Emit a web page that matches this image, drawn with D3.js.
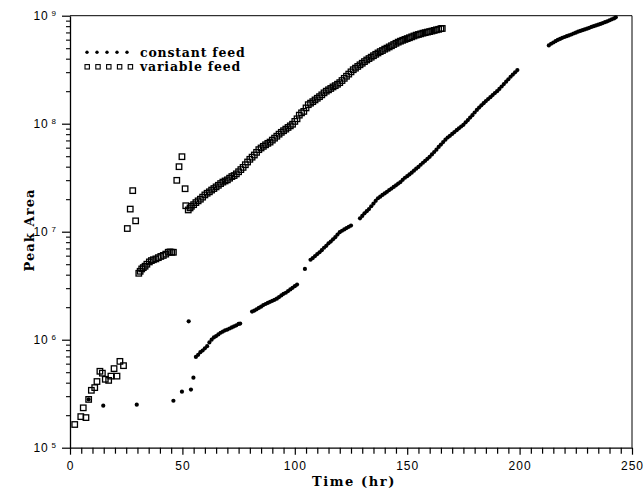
<!DOCTYPE html>
<html>
<head>
<meta charset="utf-8">
<script src="https://cdn.jsdelivr.net/npm/d3@7"></script>
<style>
  html, body { margin: 0; padding: 0; background: #fff; }
  svg { display: block; }
</style>
</head>
<body>
<script>
// Peak area of the product over time for the two feeding strategies.
// Each entry is [time (hr), peak area].

const xTicksMajor = [0, 50, 100, 150, 200, 250];
const yDecades = [1e5, 1e6, 1e7, 1e8, 1e9];

const constantFeed = [
  [8.3, 2.8e5], [14.8, 2.45e5], [29.7, 2.5e5], [46.0, 2.72e5], [49.8, 3.3e5],
  [52.8, 1.48e6], [53.8, 3.45e5], [54.9, 4.45e5],
  [56, 6.92e5], [57, 7.24e5], [58, 7.67e5], [59, 7.94e5], [60, 8.32e5], [61, 8.71e5],
  [62, 9.44e5], [63, 1.0e6], [64, 1.05e6], [65, 1.08e6], [66, 1.12e6], [67, 1.16e6],
  [68, 1.19e6], [69, 1.22e6], [70, 1.24e6], [71, 1.27e6], [72, 1.30e6], [73, 1.33e6],
  [74, 1.36e6], [75, 1.40e6], [75.7, 1.41e6],
  [81, 1.82e6], [82, 1.86e6], [83, 1.91e6], [84, 1.97e6], [85, 2.02e6], [86, 2.09e6],
  [87, 2.14e6], [88, 2.19e6], [89, 2.24e6], [90, 2.29e6], [91, 2.34e6], [92, 2.40e6],
  [93, 2.48e6], [94, 2.57e6], [95, 2.66e6], [96, 2.72e6], [97, 2.82e6], [98, 2.92e6],
  [99, 3.02e6], [100, 3.13e6], [101, 3.24e6],
  [104.5, 4.52e6],
  [107, 5.5e6], [108, 5.7e6], [109, 5.95e6], [110, 6.2e6], [111, 6.45e6], [112, 6.75e6],
  [113, 7.1e6], [114, 7.4e6], [115, 7.8e6], [116, 8.1e6], [117, 8.5e6], [118, 8.9e6],
  [119, 9.4e6], [120, 9.9e6], [121, 1.02e7], [122, 1.05e7], [123, 1.08e7], [124, 1.11e7],
  [125, 1.14e7],
  [129, 1.33e7], [130, 1.40e7], [131, 1.48e7], [132, 1.55e7], [133, 1.62e7], [134, 1.72e7],
  [135, 1.82e7], [136, 1.93e7], [137, 2.04e7], [138, 2.11e7], [139, 2.19e7], [140, 2.26e7],
  [141, 2.34e7], [142, 2.43e7], [143, 2.51e7], [144, 2.60e7], [145, 2.69e7], [146, 2.79e7],
  [147, 2.88e7], [148, 3.02e7], [149, 3.16e7], [150, 3.27e7], [151, 3.39e7], [152, 3.52e7],
  [153, 3.67e7], [154, 3.83e7], [155, 3.98e7], [156, 4.17e7], [157, 4.35e7], [158, 4.53e7],
  [159, 4.73e7], [160, 4.94e7], [161, 5.19e7], [162, 5.47e7], [163, 5.75e7], [164, 6.1e7],
  [165, 6.41e7], [166, 6.76e7], [167, 7.11e7], [168, 7.45e7], [169, 7.73e7], [170, 8.04e7],
  [171, 8.36e7], [172, 8.71e7], [173, 9.06e7], [174, 9.42e7], [175, 9.77e7], [176, 1.03e8],
  [177, 1.08e8], [178, 1.14e8], [179, 1.20e8], [180, 1.27e8], [181, 1.34e8], [182, 1.41e8],
  [183, 1.48e8], [184, 1.55e8], [185, 1.62e8], [186, 1.69e8], [187, 1.76e8], [188, 1.84e8],
  [189, 1.92e8], [190, 2.0e8], [191, 2.10e8], [192, 2.21e8], [193, 2.33e8], [194, 2.45e8],
  [195, 2.58e8], [196, 2.72e8], [197, 2.85e8], [198, 2.99e8], [199, 3.14e8],
  [213, 5.31e8], [214, 5.50e8], [215, 5.65e8], [216, 5.81e8], [217, 5.96e8], [218, 6.10e8],
  [219, 6.24e8], [220, 6.35e8], [221, 6.46e8], [222, 6.58e8], [223, 6.70e8], [224, 6.84e8],
  [225, 6.97e8], [226, 7.11e8], [227, 7.23e8], [228, 7.35e8], [229, 7.46e8], [230, 7.59e8],
  [231, 7.73e8], [232, 7.87e8], [233, 8.0e8], [234, 8.13e8], [235, 8.26e8], [236, 8.39e8],
  [237, 8.55e8], [238, 8.71e8], [239, 8.87e8], [240, 9.06e8], [241, 9.25e8], [242, 9.44e8],
  [242.8, 9.66e8]
];

const variableFeed = [
  [2.1, 1.64e5], [4.8, 1.94e5], [5.9, 2.34e5], [7.1, 1.9e5], [8.3, 2.8e5], [9.5, 3.4e5],
  [11.0, 3.6e5], [12.0, 4.1e5], [13.3, 5.1e5], [14.4, 4.9e5], [15.7, 4.3e5], [17.2, 4.2e5],
  [18.2, 4.6e5], [19.6, 5.4e5], [20.9, 4.6e5], [22.2, 6.3e5], [23.8, 5.75e5],
  [25.5, 1.07e7], [26.8, 1.62e7], [27.9, 2.4e7], [29.2, 1.26e7],
  [30.6, 4.12e6], [31.2, 4.3e6], [31.9, 4.52e6], [32.6, 4.65e6], [33.4, 4.79e6], [34.2, 5.0e6],
  [35.3, 5.25e6], [36.2, 5.4e6], [37.1, 5.5e6], [38.2, 5.6e6], [39.3, 5.75e6], [40.4, 5.9e6],
  [41.5, 6.03e6], [42.6, 6.2e6], [43.7, 6.45e6], [44.5, 6.5e6], [45.3, 6.45e6], [46.0, 6.45e6],
  [47.5, 2.99e7], [48.5, 4.0e7], [49.8, 4.95e7], [51.2, 2.5e7], [51.5, 1.74e7],
  [52.6, 1.59e7], [53.4, 1.66e7], [54, 1.72e7], [55, 1.78e7], [56, 1.86e7], [57, 1.93e7],
  [58, 2.0e7], [59, 2.09e7], [60, 2.19e7], [61, 2.27e7], [62, 2.34e7], [63, 2.43e7],
  [64, 2.51e7], [65, 2.6e7], [66, 2.69e7], [67, 2.79e7], [68, 2.88e7], [69, 2.95e7],
  [70, 3.02e7], [71, 3.13e7], [72, 3.24e7], [73, 3.31e7], [74, 3.43e7], [75, 3.59e7],
  [76, 3.76e7], [77, 3.94e7], [78, 4.17e7], [79, 4.42e7], [80, 4.68e7], [81, 4.9e7],
  [82, 5.13e7], [83, 5.43e7], [84, 5.75e7], [85, 5.96e7], [86, 6.17e7], [87, 6.38e7],
  [88, 6.58e7], [89, 6.76e7], [90, 7.05e7], [91, 7.35e7], [92, 7.66e7], [93, 8.0e7],
  [94, 8.32e7], [95, 8.61e7], [96, 8.91e7], [97, 9.23e7], [98, 9.55e7], [99, 9.89e7],
  [100, 1.05e8], [101, 1.11e8], [102, 1.2e8], [103, 1.26e8], [104, 1.3e8], [105, 1.4e8],
  [106, 1.5e8], [107, 1.55e8], [108, 1.6e8], [109, 1.66e8], [110, 1.72e8], [111, 1.78e8],
  [112, 1.85e8], [113, 1.93e8], [114, 2.0e8], [115, 2.06e8], [116, 2.12e8], [117, 2.19e8],
  [118, 2.25e8], [119, 2.32e8], [120, 2.4e8], [121, 2.51e8], [122, 2.63e8], [123, 2.75e8],
  [124, 2.88e8], [125, 3.02e8], [126, 3.16e8], [127, 3.27e8], [128, 3.39e8], [129, 3.51e8],
  [130, 3.63e8], [131, 3.76e8], [132, 3.89e8], [133, 4.01e8], [134, 4.13e8], [135, 4.26e8],
  [136, 4.39e8], [137, 4.52e8], [138, 4.65e8], [139, 4.76e8], [140, 4.9e8], [141, 5.01e8],
  [142, 5.14e8], [143, 5.27e8], [144, 5.41e8], [145, 5.55e8], [146, 5.69e8], [147, 5.81e8],
  [148, 5.92e8], [149, 6.03e8], [150, 6.14e8], [151, 6.25e8], [152, 6.37e8], [153, 6.49e8],
  [154, 6.61e8], [155, 6.7e8], [156, 6.79e8], [157, 6.89e8], [158, 6.97e8], [159, 7.05e8],
  [160, 7.13e8], [161, 7.21e8], [162, 7.31e8], [163, 7.4e8], [164, 7.48e8], [165, 7.59e8],
  [165.6, 7.62e8]
];

const legendItems = ["constant feed", "variable feed"];

const W = 644, H = 489;
const svg = d3.select("body").append("svg").attr("width", W).attr("height", H);

const x = d3.scaleLinear().domain([0, 250]).range([70, 632]);
const y = d3.scaleLog().domain([1e5, 1e9]).range([447.7, 15.7]);

const tickFont = "'Liberation Sans', Arial, sans-serif";
const titleFont = "'DejaVu Serif', serif";

// frame: top and right edges
svg.append("path")
  .attr("d", `M${x(0)},${y(1e9)}H${x(250)}V${y(1e5)}`)
  .attr("fill", "none").attr("stroke", "#000").attr("stroke-width", 1);

// x axis: minor ticks every 5 hr, labelled ticks every 50 hr
const xMinor = d3.range(0, 251, 5).filter(v => v % 50 !== 0);
svg.append("g")
  .attr("transform", `translate(0,${y(1e5)})`)
  .call(d3.axisBottom(x).tickValues(xMinor).tickSize(6).tickFormat(() => ""))
  .call(g => g.select(".domain").remove())
  .call(g => g.selectAll("line").attr("stroke-width", 1.2));

const xAxis = svg.append("g")
  .attr("transform", `translate(0,${y(1e5)})`)
  .call(d3.axisBottom(x).tickValues(xTicksMajor).tickSize(7).tickSizeOuter(0).tickPadding(7));
xAxis.select(".domain").attr("stroke-width", 1.3);
xAxis.selectAll("line").attr("stroke-width", 1.2);
xAxis.selectAll("text")
  .attr("font-family", tickFont).attr("font-size", 12)
  .attr("letter-spacing", 1).attr("fill", "#000");

// y axis: log decades with minor ticks
const yMinor = [];
yDecades.slice(0, -1).forEach(d => { for (let k = 2; k <= 9; k++) yMinor.push(d * k); });
svg.append("g")
  .attr("transform", `translate(${x(0)},0)`)
  .call(d3.axisLeft(y).tickValues(yMinor).tickSize(4).tickFormat(() => ""))
  .call(g => g.select(".domain").remove())
  .call(g => g.selectAll("line").attr("stroke-width", 1.1));

const yAxis = svg.append("g")
  .attr("transform", `translate(${x(0)},0)`)
  .call(d3.axisLeft(y).tickValues(yDecades).tickSize(8).tickSizeOuter(0).tickPadding(6).tickFormat(() => ""));
yAxis.select(".domain").attr("stroke-width", 1.3);
yAxis.selectAll("line").attr("stroke-width", 1.2);
yAxis.selectAll(".tick text").each(function (d) {
  const t = d3.select(this)
    .attr("font-family", tickFont).attr("font-size", 12).attr("fill", "#000");
  t.append("tspan").attr("letter-spacing", 0.8).text("10");
  t.append("tspan").attr("font-size", 8).attr("dx", 3).attr("dy", "-0.55em")
    .text(Math.round(Math.log10(d)));
});

// axis titles
svg.append("text")
  .attr("x", 354).attr("y", 486)
  .attr("text-anchor", "middle")
  .attr("font-family", titleFont).attr("font-weight", "bold")
  .attr("font-size", 13).attr("letter-spacing", 1.6)
  .text("Time (hr)");

svg.append("text")
  .attr("transform", "translate(34,230) rotate(-90)")
  .attr("text-anchor", "middle")
  .attr("font-family", titleFont).attr("font-weight", "bold")
  .attr("font-size", 13).attr("letter-spacing", 1.1)
  .text("Peak Area");

// data marks
const plot = svg.append("g");

plot.selectAll("rect.var")
  .data(variableFeed)
  .join("rect")
  .attr("class", "var")
  .attr("x", d => x(d[0]) - 2.75)
  .attr("y", d => y(d[1]) - 2.75)
  .attr("width", 5.5).attr("height", 5.5)
  .attr("fill", "none").attr("stroke", "#000").attr("stroke-width", 1.3);

plot.selectAll("circle.const")
  .data(constantFeed)
  .join("circle")
  .attr("class", "const")
  .attr("cx", d => x(d[0]))
  .attr("cy", d => y(d[1]))
  .attr("r", 2.1)
  .attr("fill", "#000");

// legend
const legend = svg.append("g").attr("font-family", titleFont)
  .attr("font-weight", "bold").attr("font-size", 12.5).attr("letter-spacing", 0.8);

const legendRows = [52.3, 66.8];
d3.range(5).forEach(i => {
  legend.append("circle").attr("cx", 87 + i * 10).attr("cy", legendRows[0]).attr("r", 1.7).attr("fill", "#000");
  legend.append("rect").attr("x", 85 + i * 10.8).attr("y", legendRows[1] - 2.2)
    .attr("width", 4.4).attr("height", 4.4)
    .attr("fill", "none").attr("stroke", "#000").attr("stroke-width", 1.1);
});
legendItems.forEach((label, i) => {
  legend.append("text").attr("x", 140).attr("y", legendRows[i] + 4.3).text(label);
});
</script>
</body>
</html>
